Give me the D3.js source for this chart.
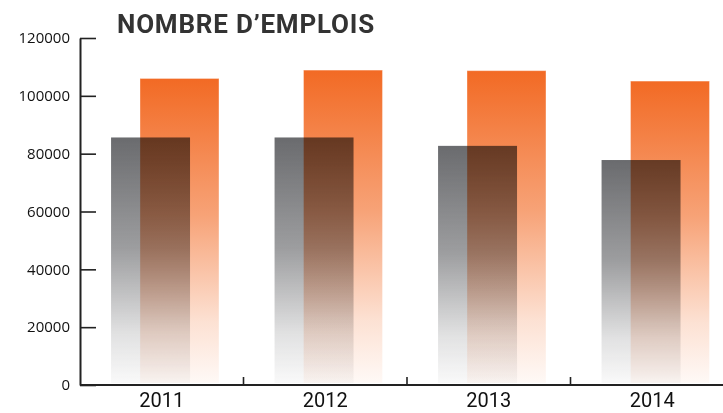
<!DOCTYPE html>
<html>
<head>
<meta charset="utf-8">
<script src="https://cdn.jsdelivr.net/npm/d3@7"></script>
<style>
  body { margin: 0; background: #fff; }
  .bar-gray { mix-blend-mode: multiply; }
</style>
</head>
<body>
<div id="chart"></div>
<script>
var years = ['2011', '2012', '2013', '2014'];
var grayValues = [85600, 85600, 82700, 77800];
var orangeValues = [106000, 108900, 108700, 105100];
var yTicks = [0, 20000, 40000, 60000, 80000, 100000, 120000];
var title = 'NOMBRE D\u2019EMPLOIS';

(function () {
  var width = 723;
  var height = 413;
  var margin = { top: 38, right: -11, bottom: 28, left: 80 };

  var xScale = d3.scaleBand().domain(years)
      .range([margin.left, width - margin.right]).padding(0);
  var yScale = d3.scaleLinear().domain([0, 120000])
      .range([height - margin.bottom, margin.top]);
  var bw = xScale.bandwidth();
  var barW = bw * 0.483;

  var svg = d3.select('#chart').append('svg')
      .attr('width', width)
      .attr('height', height);

  var defs = svg.append('defs');
  var makeGrad = function (id, color, stops) {
    var g = defs.append('linearGradient').attr('id', id)
        .attr('x1', 0).attr('y1', 0).attr('x2', 0).attr('y2', 1);
    stops.forEach(function (s) {
      g.append('stop').attr('offset', s[0]).attr('stop-color', color).attr('stop-opacity', s[1]);
    });
  };
  makeGrad('grad-orange', '#f26a24', [[0, 1], [0.45, 0.62], [0.8, 0.2], [1, 0.04]]);
  makeGrad('grad-gray', '#6a6b6e', [[0, 1], [0.45, 0.66], [0.8, 0.2], [1, 0.04]]);

  var base = yScale(0) - 2;

  // orange bars first, gray on top with multiply
  svg.selectAll('.bar-orange').data(orangeValues).enter().append('rect')
      .attr('class', 'bar-orange')
      .attr('x', function (d, i) { return xScale(years[i]) + bw * 0.367; })
      .attr('y', function (d) { return yScale(d); })
      .attr('width', barW)
      .attr('height', function (d) { return base - yScale(d); })
      .style('fill', 'url(#grad-orange)')
      .style('stroke', '#ffffff').style('stroke-opacity', 0.35).style('stroke-width', 1);

  svg.selectAll('.bar-gray').data(grayValues).enter().append('rect')
      .attr('class', 'bar-gray')
      .attr('x', function (d, i) { return xScale(years[i]) + bw * 0.19; })
      .attr('y', function (d) { return yScale(d); })
      .attr('width', barW)
      .attr('height', function (d) { return base - yScale(d); })
      .style('fill', 'url(#grad-gray)');

  // y axis
  var yAxis = d3.axisLeft(yScale).tickValues(yTicks)
      .tickSizeInner(-16).tickSizeOuter(0).tickPadding(10)
      .tickFormat(d3.format('d'));
  var yAxisEl = svg.append('g').attr('class', 'y-axis')
      .attr('transform', 'translate(' + margin.left + ',0)')
      .call(yAxis);
  yAxisEl.select('.domain').attr('stroke', '#222').attr('stroke-width', 2);
  yAxisEl.selectAll('.tick line').attr('stroke', '#222').attr('stroke-width', 1.6);
  yAxisEl.selectAll('.tick text')
      .style('font-family', '"Open Sans", sans-serif')
      .style('font-size', '15px')
      .attr('fill', '#111');

  // x axis
  var xAxisEl = svg.append('g').attr('class', 'x-axis')
      .attr('transform', 'translate(0,' + yScale(0) + ')');
  xAxisEl.append('line')
      .attr('x1', margin.left).attr('x2', width)
      .attr('stroke', '#222').attr('stroke-width', 2);
  xAxisEl.selectAll('.sep').data(years.slice(1)).enter().append('line')
      .attr('class', 'sep')
      .attr('x1', function (d) { return xScale(d); })
      .attr('x2', function (d) { return xScale(d); })
      .attr('y1', 0).attr('y2', -8)
      .attr('stroke', '#222').attr('stroke-width', 1.6);
  xAxisEl.selectAll('.year').data(years).enter().append('text')
      .attr('class', 'year')
      .attr('x', function (d) { return xScale(d) + bw / 2; })
      .attr('y', 22)
      .attr('text-anchor', 'middle')
      .style('font-family', 'Roboto, sans-serif')
      .style('font-size', '20px')
      .attr('fill', '#111')
      .text(function (d) { return d; });

  svg.append('text')
      .attr('x', 117).attr('y', 33)
      .style('font-family', 'Roboto, sans-serif')
      .style('font-weight', 'bold')
      .style('font-size', '26px')
      .style('letter-spacing', '0.8px')
      .attr('fill', '#333')
      .text(title);
})();
</script>
</body>
</html>
